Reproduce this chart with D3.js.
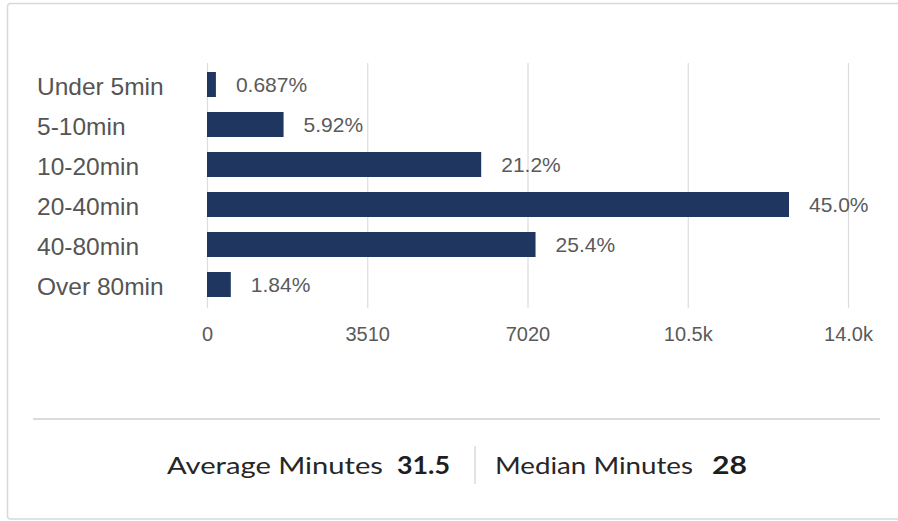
<!DOCTYPE html>
<html>
<head>
<meta charset="utf-8">
<script src="https://cdn.jsdelivr.net/npm/d3@7"></script>
<style>
html,body{margin:0;padding:0;background:#fff;}
svg{display:block;}
</style>
</head>
<body>
<svg id="chart" width="898" height="521"></svg>
<script>
const categories = ["Under 5min", "5-10min", "10-20min", "20-40min", "40-80min", "Over 80min"];
const counts = [195, 1677, 6006, 12748, 7196, 521];
const percentLabels = ["0.687%", "5.92%", "21.2%", "45.0%", "25.4%", "1.84%"];
const tickValues = [0, 3510, 7020, 10530, 14040];
const tickLabels = ["0", "3510", "7020", "10.5k", "14.0k"];
const footerItems = [
  {label: "Average Minutes", value: "31.5"},
  {label: "Median Minutes", value: "28"}
];

const svg = d3.select("#chart");

// outer card border
svg.append("rect")
  .attr("x", 7.5).attr("y", 3.5)
  .attr("width", 898).attr("height", 515.5)
  .attr("rx", 3)
  .attr("fill", "#fff")
  .attr("stroke", "#d9d9d9")
  .attr("stroke-width", 1.5);

const x = d3.scaleLinear().domain([0, 14040]).range([207, 848]);
const y = d3.scaleBand().domain(categories).range([62, 307])
  .paddingInner(0.375).paddingOuter(0.25);

// gridlines + tick labels via axis
const axis = d3.axisBottom(x)
  .tickValues(tickValues)
  .tickFormat((d, i) => tickLabels[i])
  .tickSize(-(307 - 62))
  .tickPadding(20);

const gAxis = svg.append("g")
  .attr("transform", "translate(0,308)")
  .call(axis);
gAxis.select(".domain").remove();
gAxis.selectAll(".tick line").attr("stroke", "#dcdcdc").attr("stroke-width", 1.2);
gAxis.selectAll(".tick text")
  .attr("font-family", "Liberation Sans, Arial, sans-serif")
  .attr("font-size", 20)
  .attr("fill", "#5a5a5a")
  .attr("dy", "0.71em")
  .attr("y", 19);

// bars
svg.append("g").selectAll("rect")
  .data(categories)
  .join("rect")
  .attr("x", x(0))
  .attr("y", d => y(d))
  .attr("width", (d, i) => x(counts[i]) - x(0))
  .attr("height", y.bandwidth())
  .attr("fill", "#1f3660");

// value labels
svg.append("g").selectAll("text")
  .data(categories)
  .join("text")
  .attr("x", (d, i) => x(counts[i]) + 20)
  .attr("y", d => y(d) + y.bandwidth() / 2)
  .attr("dy", "0.36em")
  .attr("font-family", "Liberation Sans, Arial, sans-serif")
  .attr("font-size", 21)
  .attr("fill", "#5a5a5a")
  .text((d, i) => percentLabels[i]);

// category labels
svg.append("g").selectAll("text")
  .data(categories)
  .join("text")
  .attr("x", 37)
  .attr("y", d => y(d) + y.bandwidth() / 2 + 1.5)
  .attr("dy", "0.36em")
  .attr("font-family", "Liberation Sans, Arial, sans-serif")
  .attr("font-size", 24.5)
  .attr("fill", "#555")
  .text(d => d);

// separator line
svg.append("line")
  .attr("x1", 33).attr("x2", 880)
  .attr("y1", 419).attr("y2", 419)
  .attr("stroke", "#cfcfcf").attr("stroke-width", 1.5);

// footer
const footerFont = "Lato, 'Open Sans', sans-serif";
const footerY = 474;
const starts = [167, 495];
const labelLens = [216, 198];
const valueStarts = [397, 712];
const valueLens = [53, 35];
footerItems.forEach((f, i) => {
  svg.append("text")
    .attr("x", starts[i]).attr("y", footerY)
    .attr("font-family", footerFont)
    .attr("font-size", 24)
    .attr("fill", "#262626")
    .attr("textLength", labelLens[i])
    .attr("lengthAdjust", "spacingAndGlyphs")
    .text(f.label);
  svg.append("text")
    .attr("x", valueStarts[i]).attr("y", footerY)
    .attr("font-family", footerFont)
    .attr("font-size", 24)
    .attr("font-weight", "bold")
    .attr("fill", "#1e1e1e")
    .attr("textLength", valueLens[i])
    .attr("lengthAdjust", "spacingAndGlyphs")
    .text(f.value);
});
svg.append("line")
  .attr("x1", 475).attr("x2", 475)
  .attr("y1", 446).attr("y2", 484)
  .attr("stroke", "#d0d0d0").attr("stroke-width", 1.2);
</script>
</body>
</html>
